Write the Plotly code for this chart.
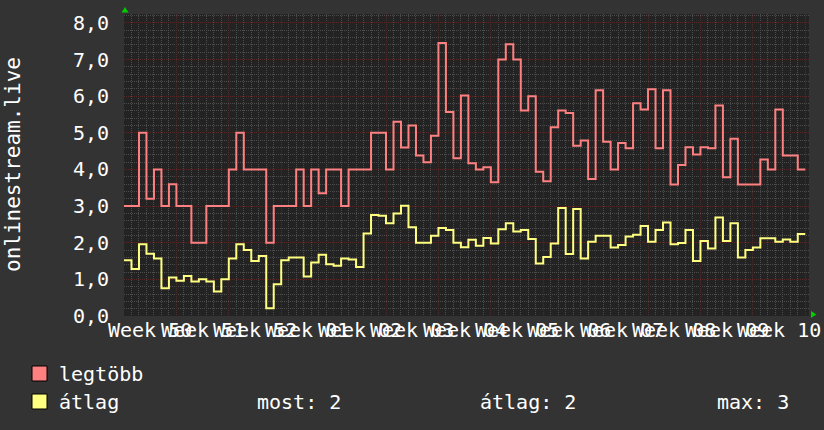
import plotly.graph_objects as go

# ---------------- data ----------------
legtobb = [3.0, 3.0, 5.0, 3.2, 4.0, 3.0, 3.6, 3.0, 3.0, 2.0,
           2.0, 3.0, 3.0, 3.0, 4.0, 5.0, 4.0, 4.0, 4.0, 2.0,
           3.0, 3.0, 3.0, 4.0, 3.0, 4.0, 3.35, 4.0, 4.0, 3.0,
           4.0, 4.0, 4.0, 5.0, 5.0, 4.0, 5.3, 4.6, 5.2, 4.38,
           4.2, 4.92, 7.45, 5.57, 4.31, 6.02, 4.17, 4.0, 4.06, 3.65,
           7.0, 7.42, 7.0, 5.61, 6.0, 3.94, 3.68, 5.15, 5.61, 5.54,
           4.65, 4.79, 3.74, 6.16, 4.76, 4.0, 4.72, 4.58, 5.81, 5.64,
           6.19, 4.58, 6.16, 3.59, 4.12, 4.61, 4.41, 4.61, 4.58, 5.75,
           3.79, 4.84, 3.59, 3.59, 3.59, 4.27, 4.0, 5.64, 4.38, 4.38,
           4.0]
atlag = [1.52, 1.28, 1.96, 1.70, 1.57, 0.76, 1.05, 0.96, 1.09, 0.94,
         1.00, 0.94, 0.67, 1.00, 1.57, 1.96, 1.80, 1.50, 1.64, 0.21,
         0.87, 1.52, 1.60, 1.60, 1.08, 1.46, 1.67, 1.41, 1.37, 1.57,
         1.54, 1.34, 2.25, 2.76, 2.74, 2.53, 2.80, 3.01, 2.42, 2.00,
         2.00, 2.19, 2.40, 2.35, 2.00, 1.88, 2.08, 1.92, 2.13, 1.98,
         2.37, 2.53, 2.31, 2.35, 2.10, 1.43, 1.61, 1.98, 2.95, 1.69,
         2.92, 1.57, 2.03, 2.19, 2.19, 1.87, 1.94, 2.17, 2.22, 2.46,
         2.03, 2.35, 2.55, 1.96, 1.99, 2.35, 1.50, 2.05, 1.84, 2.69,
         2.05, 2.53, 1.60, 1.80, 1.87, 2.12, 2.12, 2.03, 2.09, 2.03,
         2.24]
week_labels = ["Week 50", "Week 51", "Week 52", "Week 01", "Week 02", "Week 03",
               "Week 04", "Week 05", "Week 06", "Week 07", "Week 08", "Week 09",
               "Week 10"]
y_tickvals = [0, 1, 2, 3, 4, 5, 6, 7, 8]
y_ticktext = ["0,0", "1,0", "2,0", "3,0", "4,0", "5,0", "6,0", "7,0", "8,0"]
series_names = ["legtöbb", "átlag"]
stats = ["most: 2", "átlag: 2", "max: 3"]
y_title = "onlinestream.live"

# ---------------- style ----------------
W, H = 824, 430
L, R, T, B = 124, 809, 14, 316
BG = "#333333"
PLOT_BG = "#232323"
RED = "#ff8080"
YEL = "#ffff80"
MAJOR = "#562828"
MINOR = "#4c4c4c"
FONT = "DejaVu Sans Mono"
MONO = dict(family=FONT, size=20, color="#ffffff")


def px(x):
    return (x - L) / (R - L)


def py(y):
    return (B - y) / (B - T)


days = list(range(len(legtobb) + 1))

fig = go.Figure()
for vals, col, name in [(legtobb, RED, series_names[0]), (atlag, YEL, series_names[1])]:
    fig.add_trace(go.Scatter(x=days, y=vals + [vals[-1]], mode="lines",
                             line=dict(color=col, width=2, shape="hv"),
                             name=name, showlegend=False, hoverinfo="skip"))

fig.update_layout(
    width=W, height=H,
    margin=dict(l=L, r=W - R, t=T, b=H - B),
    paper_bgcolor=BG, plot_bgcolor=PLOT_BG,
    font=MONO,
    xaxis=dict(range=[0, 91.5], showticklabels=False, ticks="",
               tick0=0, dtick=7, showgrid=True, gridcolor=MAJOR,
               griddash="1px,1px", gridwidth=1, zeroline=False,
               minor=dict(dtick=1, tick0=0, showgrid=True, gridcolor=MINOR,
                          griddash="1px,1px", gridwidth=1),
               showline=False),
    yaxis=dict(range=[0, 8.245], tickvals=y_tickvals, ticktext=y_ticktext,
               ticks="", ticklabelstandoff=14, tickfont=MONO,
               showgrid=True, gridcolor=MAJOR, griddash="1px,1px", gridwidth=1,
               zeroline=False,
               minor=dict(dtick=0.2, tick0=0, showgrid=True, gridcolor=MINOR,
                          griddash="1px,1px", gridwidth=1),
               showline=False),
)

# x labels (weeks, centred mid-week)
for i, lab in enumerate(week_labels):
    fig.add_annotation(x=3.5 + 7 * i, xref="x", y=py(330), yref="paper",
                       text=lab, showarrow=False, xanchor="center", yanchor="middle",
                       font=MONO)

# y title
fig.add_annotation(x=px(13), y=py(164), xref="paper", yref="paper", text=y_title,
                   textangle=-90, showarrow=False, xanchor="center", yanchor="middle",
                   font=dict(family=FONT, size=21, color="#ffffff"))

# legend
for (y0, y1), col, name in [((366, 381), RED, series_names[0]), ((394, 409), YEL, series_names[1])]:
    fig.add_shape(type="rect", xref="paper", yref="paper",
                  x0=px(32), x1=px(47), y0=py(y1), y1=py(y0),
                  fillcolor=col, line=dict(color="#000000", width=1))
    fig.add_annotation(x=px(57), y=py((y0 + y1) / 2), xref="paper", yref="paper",
                       text=name, showarrow=False, xanchor="left", yanchor="middle",
                       font=MONO)
for xpos, txt in zip([255, 478, 715], stats):
    fig.add_annotation(x=px(xpos), y=py(401.5), xref="paper", yref="paper",
                       text=txt, showarrow=False, xanchor="left", yanchor="middle",
                       font=MONO)

# green arrows at axis ends
fig.add_shape(type="path", xref="paper", yref="paper",
              path=f"M {px(121.5)} {py(12.5)} L {px(128.5)} {py(12.5)} L {px(125)} {py(7)} Z",
              fillcolor="#00cc00", line=dict(width=0))
fig.add_shape(type="path", xref="paper", yref="paper",
              path=f"M {px(811)} {py(311)} L {px(811)} {py(318)} L {px(816.5)} {py(314.5)} Z",
              fillcolor="#00cc00", line=dict(width=0))

fig.write_html("out.html",
               config={"displayModeBar": False},
               post_script="document.body.style.margin='0';"
                           "document.body.style.background='#333333';"
                           "document.body.style.overflow='hidden';")
